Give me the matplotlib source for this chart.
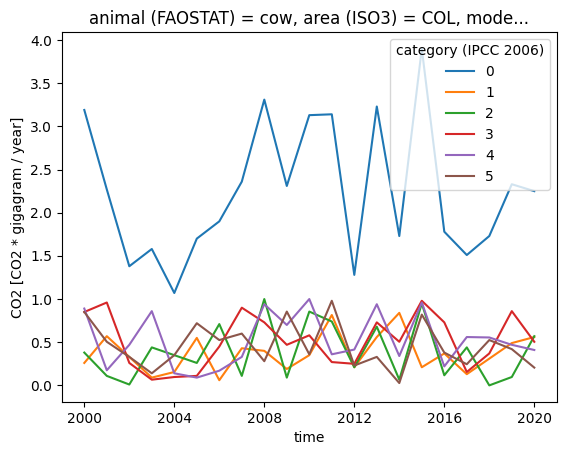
import numpy as np
import matplotlib.pyplot as plt

years = np.arange(2000, 2021)
categories = ["0", "1", "2", "3", "4", "5"]

cat0 = [3.19, 2.27, 1.38, 1.58, 1.07, 1.70, 1.90, 2.36, 3.31, 2.31, 3.13,
        3.14, 1.28, 3.23, 1.73, 3.90, 1.78, 1.51, 1.73, 2.33, 2.25]
cat1 = [0.26, 0.57, 0.33, 0.09, 0.155, 0.55, 0.06, 0.43, 0.40, 0.19, 0.35,
        0.815, 0.21, 0.56, 0.84, 0.21, 0.37, 0.13, 0.31, 0.49, 0.56]
cat2 = [0.38, 0.11, 0.01, 0.44, 0.35, 0.26, 0.71, 0.11, 1.0, 0.09, 0.855,
        0.74, 0.21, 0.68, 0.066, 0.95, 0.117, 0.44, 0.0, 0.097, 0.57]
cat3 = [0.85, 0.96, 0.26, 0.066, 0.097, 0.11, 0.45, 0.90, 0.73, 0.47, 0.58,
        0.27, 0.25, 0.73, 0.505, 0.98, 0.73, 0.155, 0.37, 0.86, 0.505]
cat4 = [0.89, 0.175, 0.47, 0.86, 0.14, 0.09, 0.17, 0.33, 0.94, 0.70, 1.0,
        0.36, 0.415, 0.94, 0.34, 0.96, 0.22, 0.56, 0.555, 0.47, 0.41]
cat5 = [0.85, 0.505, 0.33, 0.14, 0.35, 0.72, 0.525, 0.60, 0.28, 0.855, 0.36,
        0.98, 0.23, 0.33, 0.027, 0.82, 0.38, 0.245, 0.525, 0.42, 0.206]

series = [cat0, cat1, cat2, cat3, cat4, cat5]

fig, ax = plt.subplots(figsize=(5.67, 4.55), dpi=100)
fig.subplots_adjust(left=0.109, right=0.982, top=0.93, bottom=0.116)

for name, vals in zip(categories, series):
    ax.plot(years, vals, label=name)

ax.set_xticks([2000, 2004, 2008, 2012, 2016, 2020])
ax.set_xlabel("time")
ax.set_ylabel("CO2 [CO2 * gigagram / year]")
ax.set_title("animal (FAOSTAT) = cow, area (ISO3) = COL, mode...")
ax.legend(title="category (IPCC 2006)", loc="upper right")

fig.savefig("out.png")
